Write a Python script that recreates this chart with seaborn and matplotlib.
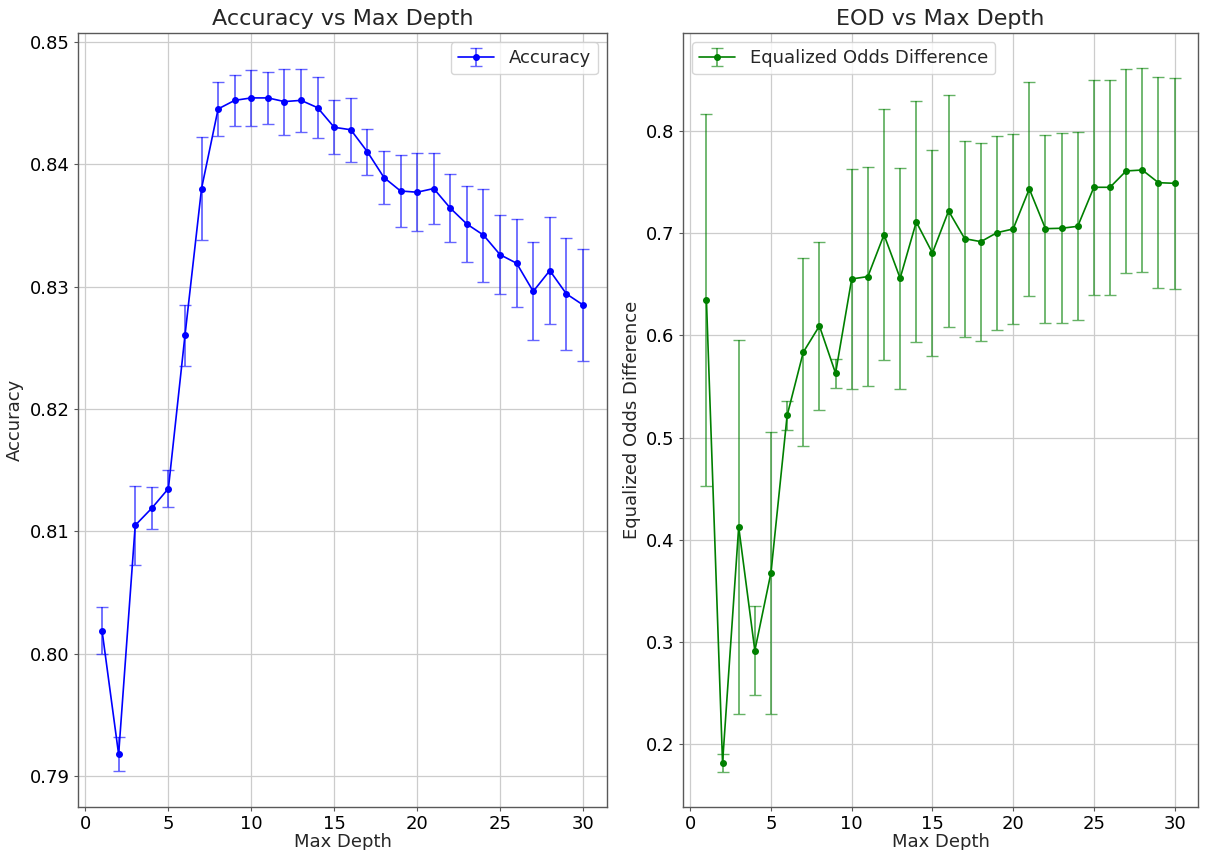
import numpy as np
import matplotlib
matplotlib.use("Agg")
import matplotlib.pyplot as plt
import seaborn as sns
from matplotlib.ticker import MultipleLocator, FormatStrFormatter

max_depth = list(range(1, 31))
acc_mean = [0.8019, 0.7918, 0.8105, 0.8119, 0.8135, 0.8260, 0.8380, 0.8445, 0.8452, 0.8454,
            0.8454, 0.8451, 0.8452, 0.8446, 0.8430, 0.8428, 0.8410, 0.8389, 0.8378, 0.8377,
            0.8380, 0.8364, 0.8351, 0.8342, 0.8326, 0.8319, 0.8296, 0.8313, 0.8294, 0.8285]
acc_err = [0.0019, 0.0014, 0.0032, 0.0017, 0.0015, 0.0025, 0.0042, 0.0022, 0.0021, 0.0023,
           0.0021, 0.0027, 0.0026, 0.0025, 0.0022, 0.0026, 0.0019, 0.0022, 0.0029, 0.0032,
           0.0029, 0.0028, 0.0031, 0.0038, 0.0032, 0.0036, 0.0040, 0.0044, 0.0046, 0.0046]
eod_mean = [0.635, 0.1816, 0.4125, 0.2915, 0.3678, 0.5216, 0.5835, 0.6092, 0.5629, 0.6552,
            0.6575, 0.6985, 0.6559, 0.7110, 0.6806, 0.7217, 0.6946, 0.6917, 0.7005, 0.7041,
            0.7433, 0.7044, 0.7048, 0.7067, 0.7449, 0.7449, 0.7609, 0.7618, 0.7494, 0.7488]
eod_err = [0.182, 0.0085, 0.183, 0.0435, 0.138, 0.0146, 0.092, 0.082, 0.0142, 0.108,
           0.107, 0.123, 0.108, 0.118, 0.101, 0.114, 0.096, 0.097, 0.095, 0.093,
           0.105, 0.092, 0.093, 0.092, 0.105, 0.105, 0.100, 0.100, 0.103, 0.103]

sns.set_theme(style="whitegrid")
plt.rcParams.update({
    "axes.edgecolor": "0.35",
    "axes.linewidth": 1.0,
    "grid.color": "0.8",
    "grid.linewidth": 0.9,
    "xtick.bottom": True,
    "ytick.left": True,
    "xtick.color": "0.35",
    "ytick.color": "0.35",
    "xtick.labelcolor": "black",
    "ytick.labelcolor": "black",
})
plt.rcParams["font.family"] = ["DejaVu Sans"]

fig = plt.figure(figsize=(12.05, 8.5), dpi=100)
ax1 = fig.add_axes([78 / 1205, 43 / 850, 529 / 1205, 774 / 850])
ax2 = fig.add_axes([683 / 1205, 43 / 850, 515 / 1205, 774 / 850])


def draw(ax, y, e, color, label):
    eb = ax.errorbar(max_depth, y, yerr=e, fmt="-o", color=color, markersize=4,
                     linewidth=1.2, capsize=4, elinewidth=1.3, capthick=1.0, label=label)
    for c in eb[1]:
        c.set_alpha(0.6)
    for c in eb[2]:
        c.set_alpha(0.6)


draw(ax1, acc_mean, acc_err, "blue", "Accuracy")
draw(ax2, eod_mean, eod_err, "green", "Equalized Odds Difference")

for ax in (ax1, ax2):
    ax.xaxis.set_major_locator(MultipleLocator(5))
    ax.tick_params(labelsize=13, length=3, width=0.8, pad=3)
    ax.set_xlabel("Max Depth", fontsize=13, labelpad=0)

ax1.yaxis.set_major_locator(MultipleLocator(0.01))
ax1.yaxis.set_major_formatter(FormatStrFormatter("%.2f"))
ax1.set_ylim(0.7875, 0.8507)
ax1.set_ylabel("Accuracy", fontsize=13, labelpad=4)
ax1.set_title("Accuracy vs Max Depth", fontsize=16)
ax1.legend(loc="upper right", fontsize=13)

ax2.yaxis.set_major_locator(MultipleLocator(0.1))
ax2.yaxis.set_major_formatter(FormatStrFormatter("%.1f"))
ax2.set_ylim(0.1384, 0.8959)
ax2.set_ylabel("Equalized Odds Difference", fontsize=13, labelpad=4)
ax2.set_title("EOD vs Max Depth", fontsize=16)
ax2.legend(loc="upper left", fontsize=13)

for ax in (ax1, ax2):
    ax.set_xlim(-0.45, 31.45)

fig.savefig("out.png", dpi=100)
